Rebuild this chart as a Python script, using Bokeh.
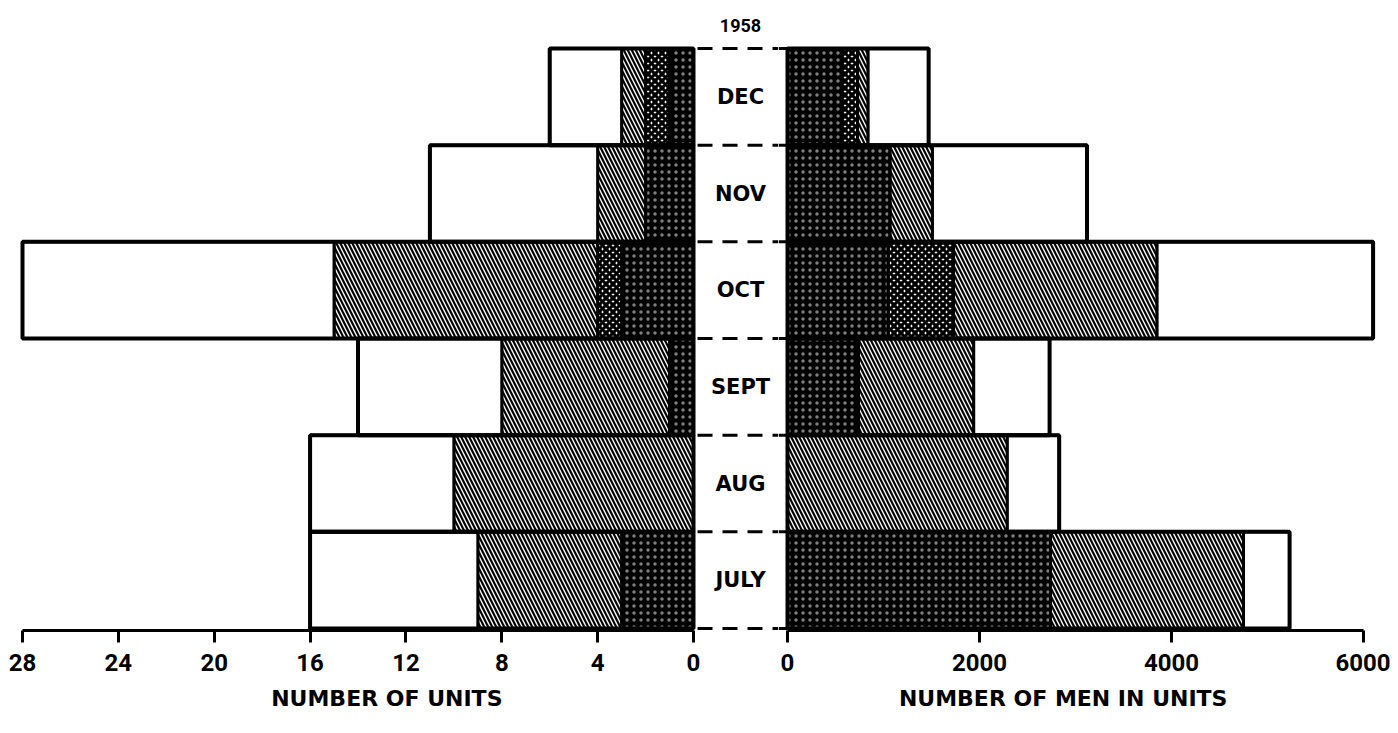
import numpy as np
from bokeh.plotting import figure
from bokeh.models import ColumnDataSource, Range1d, FixedTicker
from bokeh.layouts import row
from bokeh.embed import file_html
from bokeh.resources import INLINE
from bokeh.core.properties import value

# ---------------- data ----------------
months = ["JULY", "AUG", "SEPT", "OCT", "NOV", "DEC"]
year_label = "1958"
# number of units, by category (from the centre outward)
units_dense = [3, 0, 1, 3, 2, 1]
units_check = [0, 0, 0, 1, 0, 1]
units_hatch = [6, 10, 7, 11, 2, 1]
units_open = [7, 6, 6, 13, 7, 3]
# number of men in units, by category
men_dense = [2740, 0, 740, 1050, 1070, 570]
men_check = [0, 0, 0, 680, 0, 160]
men_hatch = [2010, 2290, 1200, 2120, 440, 110]
men_open = [480, 540, 790, 2250, 1610, 630]
units_ticks = [0, 4, 8, 12, 16, 20, 24, 28]
men_ticks = [0, 2000, 4000, 6000]
units_title = "NUMBER  OF  UNITS"
men_title = "NUMBER  OF  MEN  IN  UNITS"

# ---------------- layout (page pixels) ----------------
CANVAS_L = 0
FRAME_L = 10
U_MAX_PX, U_ZERO_PX = 22, 693
M_ZERO_PX, M_MAX_PX = 787, 1363
SPLIT = 778
FRAME_R = 1378
CANVAS_R = 1390
CANVAS_T, FRAME_T, ROW_T, ROW_B, FRAME_B, CANVAS_B = 0, 8, 48, 628, 630, 722
MID_PX = 740
YEAR_PX = 25

ppu = (U_ZERO_PX - U_MAX_PX) / units_ticks[-1]
ppm = (M_MAX_PX - M_ZERO_PX) / men_ticks[-1]
n = len(months)
row_px = (ROW_B - ROW_T) / n

units_range = Range1d(units_ticks[-1] + (U_MAX_PX - FRAME_L) / ppu,
                      -(SPLIT - U_ZERO_PX) / ppu)
men_range = Range1d((SPLIT - M_ZERO_PX) / ppm, (FRAME_R - M_ZERO_PX) / ppm)
y_range = Range1d(-(FRAME_B - ROW_B) / row_px, n + (ROW_T - FRAME_T) / row_px)

H = CANVAS_B - CANVAS_T
common = dict(height=H, y_range=y_range, min_border_top=FRAME_T - CANVAS_T,
              min_border_bottom=CANVAS_B - FRAME_B, toolbar_location=None,
              output_backend="svg", y_axis_location=None, title=None,
              background_fill_color="white", border_fill_color="white")

left = figure(width=SPLIT - CANVAS_L, x_range=units_range,
              min_border_left=FRAME_L - CANVAS_L, min_border_right=0, **common)
right = figure(width=CANVAS_R - SPLIT, x_range=men_range,
               min_border_left=0, min_border_right=CANVAS_R - FRAME_R, **common)

ys = [i + 0.5 for i in range(n)]
src_u = ColumnDataSource(dict(y=ys, d=units_dense, c=units_check, h=units_hatch,
                              o=units_open,
                              total=list(np.sum([units_dense, units_check, units_hatch, units_open], axis=0))))
src_m = ColumnDataSource(dict(y=ys, d=men_dense, c=men_check, h=men_hatch,
                              o=men_open,
                              total=list(np.sum([men_dense, men_check, men_hatch, men_open], axis=0))))

style = dict(fill_color=["black", "white", "white", "white"],
             hatch_pattern=["dot", "diagonal_cross", "left_diagonal_line", " "],
             hatch_color=["white", "black", "black", "black"],
             hatch_alpha=[0.5, 1, 1, 1],
             hatch_scale=[7, 7, 8, 8],
             hatch_weight=[0.6, 3.2, 2.2, 1],
             line_color="black", line_width=3)

DASH = "15 10"
DASH_LEN = 25
DASH_OFF = 21

for p, src in ((left, src_u), (right, src_m)):
    p.hbar_stack(["d", "c", "h", "o"], y="y", height=1, source=src, **style)
    p.hbar(y="y", left=0, right="total", height=1, source=src,
           fill_color=None, line_color="black", line_width=4)
    p.grid.visible = False
    p.outline_line_color = None
    ax = p.xaxis[0]
    ax.axis_line_width = 3
    ax.axis_line_color = "black"
    ax.major_tick_line_width = 3
    ax.major_tick_line_color = "black"
    ax.major_tick_out = 12
    ax.major_tick_in = 0
    ax.minor_tick_out = 0
    ax.minor_tick_in = 0
    ax.major_label_text_font = "Roboto"
    ax.major_label_text_font_style = "bold"
    ax.major_label_text_font_size = "24px"
    ax.major_label_text_color = "black"
    ax.major_label_standoff = 11
    ax.axis_label_text_font = "DejaVu Sans"
    ax.axis_label_text_font_style = "bold"
    ax.axis_label_text_font_size = "22px"
    ax.axis_label_text_color = "black"
    ax.axis_label_standoff = 12

left.xaxis[0].ticker = FixedTicker(ticks=units_ticks)
left.xaxis[0].bounds = (units_ticks[0], units_ticks[-1])
left.xaxis[0].axis_label = units_title
right.xaxis[0].ticker = FixedTicker(ticks=men_ticks)
right.xaxis[0].bounds = (men_ticks[0], men_ticks[-1])
right.xaxis[0].axis_label = men_title

# dashed separators in the middle band
bounds_y = list(range(n + 1))
left.segment(x0=[0] * (n + 1), y0=bounds_y, x1=[units_range.end] * (n + 1), y1=bounds_y,
             line_color="black", line_width=3, line_dash=DASH, line_dash_offset=DASH_OFF)
right.segment(x0=[men_range.start] * (n + 1), y0=bounds_y, x1=[0] * (n + 1), y1=bounds_y,
              line_color="black", line_width=3, line_dash=DASH,
              line_dash_offset=(SPLIT - U_ZERO_PX + DASH_OFF) % DASH_LEN)

label_x = -(MID_PX - U_ZERO_PX) / ppu
left.text(x=[label_x] * n, y=ys, text=months, text_align="center",
          text_baseline="middle", text_font=value("DejaVu Sans"),
          text_font_style="bold", text_font_size="21px", text_color="black")
left.text(x=[label_x], y=[n + (ROW_T - YEAR_PX) / row_px], text=[year_label],
          text_align="center", text_baseline="middle",
          text_font=value("Roboto"), text_font_style="bold",
          text_font_size="18px", text_color="black")

layout = row(left, right, spacing=0)
open("out.html", "w").write(file_html(layout, INLINE))
